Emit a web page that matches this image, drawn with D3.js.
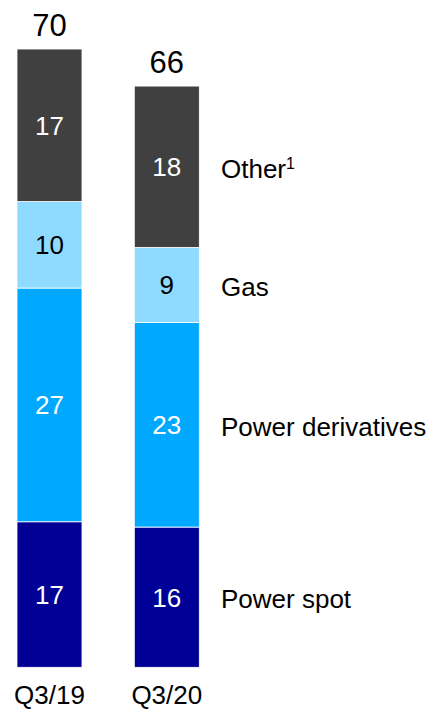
<!DOCTYPE html>
<html>
<head>
<meta charset="utf-8">
<script src="https://cdn.jsdelivr.net/npm/d3@7"></script>
<style>
  html, body { margin: 0; padding: 0; background: #fff; }
  svg { display: block; font-family: Arial, "Liberation Sans", sans-serif; }
</style>
</head>
<body>
<svg id="chart" width="433" height="710"></svg>
<script>
// Data (bottom to top of stack)
const categories = ["Q3/19", "Q3/20"];
const seriesNames = ["Power spot", "Power derivatives", "Gas", "Other"];
const legendLabels = ["Power spot", "Power derivatives", "Gas", "Other"];
const valuesQ319 = [16.5, 26.5, 9.8, 17.3];
const valuesQ320 = [15.9, 23.2, 8.5, 18.3];
const labelsQ319 = ["17", "27", "10", "17"];
const labelsQ320 = ["16", "23", "9", "18"];
const totalLabels = ["70", "66"];

const colors = ["#000096", "#00a8ff", "#8fdbff", "#404040"];
const textColors = ["#ffffff", "#ffffff", "#000000", "#ffffff"];

const svg = d3.select("#chart");

const rows = categories.map((c, i) => {
  const vals = i === 0 ? valuesQ319 : valuesQ320;
  const labs = i === 0 ? labelsQ319 : labelsQ320;
  const o = { category: c, total: totalLabels[i] };
  seriesNames.forEach((s, j) => { o[s] = vals[j]; o[s + "_label"] = labs[j]; });
  return o;
});

const stack = d3.stack().keys(seriesNames);
const stacked = stack(rows);

const y0 = 667.3, pxPerUnit = 8.82;
const y = d3.scaleLinear().domain([0, 75]).range([y0, y0 - 75 * pxPerUnit]);
const x = d3.scaleBand().domain(categories).range([17, 199.3]).paddingInner(0.446).paddingOuter(0);

const layers = svg.append("g").selectAll("g.layer")
  .data(stacked).join("g")
  .attr("class", "layer")
  .attr("fill", (d, i) => colors[i]);

layers.selectAll("rect")
  .data(d => d.map(p => ({ p, key: d.key })))
  .join("rect")
  .attr("x", d => x(d.p.data.category))
  .attr("width", x.bandwidth())
  .attr("y", d => y(d.p[1]))
  .attr("height", d => y(d.p[0]) - y(d.p[1]))
  .attr("stroke", "#ffffff")
  .attr("stroke-width", 0.8);

// Segment labels
stacked.forEach((layer, i) => {
  svg.append("g").selectAll("text")
    .data(layer).join("text")
    .attr("x", d => x(d.data.category) + x.bandwidth() / 2)
    .attr("y", d => (y(d[0]) + y(d[1])) / 2)
    .attr("dy", "0.36em")
    .attr("text-anchor", "middle")
    .attr("font-size", 26)
    .attr("fill", textColors[i])
    .text(d => d.data[layer.key + "_label"]);
});

// Totals
const topLayer = stacked[stacked.length - 1];
svg.append("g").selectAll("text")
  .data(topLayer).join("text")
  .attr("x", d => x(d.data.category) + x.bandwidth() / 2)
  .attr("y", d => y(d[1]) - 13)
  .attr("text-anchor", "middle")
  .attr("font-size", 31)
  .attr("fill", "#000")
  .text(d => d.data.total);

// Category axis labels
svg.append("g").selectAll("text")
  .data(categories).join("text")
  .attr("x", d => x(d) + x.bandwidth() / 2)
  .attr("y", 704)
  .attr("text-anchor", "middle")
  .attr("font-size", 26)
  .attr("fill", "#000")
  .text(d => d);

// Legend labels aligned with Q3/20 segments
const lastIdx = categories.length - 1;
stacked.forEach((layer, i) => {
  const d = layer[lastIdx];
  const t = svg.append("text")
    .attr("x", 221)
    .attr("y", (y(d[0]) + y(d[1])) / 2 + 1.5)
    .attr("dy", "0.36em")
    .attr("font-size", 26)
    .attr("fill", "#000")
    .text(legendLabels[i]);
  if (layer.key === "Other") {
    t.append("tspan")
      .attr("font-size", 16)
      .attr("dy", "-0.55em")
      .text("1");
  }
});
</script>
</body>
</html>
